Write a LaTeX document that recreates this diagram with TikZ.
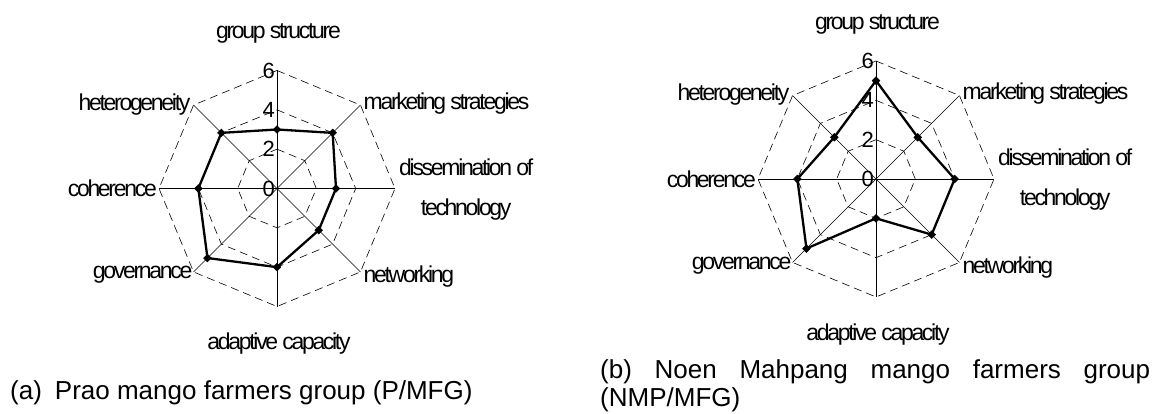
\documentclass[tikz,border=0pt]{standalone}
\usepackage{fontspec}
\setmainfont{Liberation Sans}
\newfontfamily\tightfont{Liberation Sans}[LetterSpace=-10.0]
\usetikzlibrary{plotmarks}
\tikzset{
  ring/.style={line width=0.6pt,dash pattern=on 8pt off 5pt},
  spoke/.style={line width=0.6pt},
  dataline/.style={line width=2.3pt,mark=square*,mark size=2.8pt,mark options={rotate=45,solid,line width=0.4pt}},
  axislabel/.style={inner sep=0pt,font=\tightfont\fontsize{23}{40}\selectfont},
  ticklabel/.style={inner sep=0pt,anchor=east,xshift=-2pt,font=\fontsize{22}{22}\selectfont},
  captext/.style={inner sep=0pt,anchor=base west,font=\fontsize{26}{30}\selectfont}
}
\begin{document}
\begin{tikzpicture}[line join=miter,x=1pt,y=-1pt]
\useasboundingbox (0,0) rectangle (1176,414);
\begin{scope}[shift={(277,188.5)},x=19.667pt,y=-19.667pt]
  \foreach \r in {2,4,6}
    \draw[ring] (-90:\r) -- (-45:\r) -- (0:\r) -- (45:\r) -- (90:\r) -- (135:\r) -- (180:\r) -- (225:\r) -- cycle;
  \foreach \i in {0,...,7}
    \draw[spoke] (0,0) -- ({-90+45*\i}:6) coordinate (a\i);
  \foreach \v in {0,2,4,6}
    \node[ticklabel] (ta\v) at (-90:\v) {\v};
  \draw[dataline] plot coordinates {(-90:3) (-45:4) (0:3) (45:3) (90:4) (135:5) (180:4) (225:4)} -- cycle;
\end{scope}
\node[axislabel,anchor=base] (agroup) at ([xshift=1.5pt,yshift=31.5pt]a0) {group structure};
\node[axislabel,anchor=base west] (amarket) at ([xshift=3pt,yshift=-4pt]a1) {marketing strategies};
\node[axislabel,anchor=west,align=center] (adissem) at ([xshift=4pt,yshift=-1pt]a2) {dissemination of\\technology};
\node[axislabel,anchor=base west] (anet) at ([xshift=3pt,yshift=-11pt]a3) {networking};
\node[axislabel,anchor=base] (aadapt) at ([xshift=2pt,yshift=-43pt]a4) {adaptive capacity};
\node[axislabel,anchor=base east] (agov) at ([xshift=-1pt,yshift=-7pt]a5) {governance};
\node[axislabel,anchor=base east] (acoh) at ([xshift=-2pt,yshift=-8.5pt]a6) {coherence};
\node[axislabel,anchor=base east] (ahet) at ([xshift=-3pt,yshift=-5pt]a7) {heterogeneity};

\begin{scope}[shift={(876,179)},x=19.667pt,y=-19.667pt]
  \foreach \r in {2,4,6}
    \draw[ring] (-90:\r) -- (-45:\r) -- (0:\r) -- (45:\r) -- (90:\r) -- (135:\r) -- (180:\r) -- (225:\r) -- cycle;
  \foreach \i in {0,...,7}
    \draw[spoke] (0,0) -- ({-90+45*\i}:6) coordinate (b\i);
  \foreach \v in {0,2,4,6}
    \node[ticklabel] (tb\v) at (-90:\v) {\v};
  \draw[dataline] plot coordinates {(-90:5) (-45:3) (0:4) (45:4) (90:2) (135:5) (180:4) (225:3)} -- cycle;
\end{scope}
\node[axislabel,anchor=base] (bgroup) at ([xshift=1.5pt,yshift=31.5pt]b0) {group structure};
\node[axislabel,anchor=base west] (bmarket) at ([xshift=3pt,yshift=-4pt]b1) {marketing strategies};
\node[axislabel,anchor=west,align=center] (bdissem) at ([xshift=4pt,yshift=-1pt]b2) {dissemination of\\technology};
\node[axislabel,anchor=base west] (bnet) at ([xshift=3pt,yshift=-11pt]b3) {networking};
\node[axislabel,anchor=base] (badapt) at ([xshift=2pt,yshift=-43pt]b4) {adaptive capacity};
\node[axislabel,anchor=base east] (bgov) at ([xshift=-1pt,yshift=-7pt]b5) {governance};
\node[axislabel,anchor=base east] (bcoh) at ([xshift=-2pt,yshift=-8.5pt]b6) {coherence};
\node[axislabel,anchor=base east] (bhet) at ([xshift=-3pt,yshift=-5pt]b7) {heterogeneity};

\node[captext] (capa) at (10,399) {(a)\enspace Prao mango farmers group (P/MFG)};
\node[captext] (capb) at (600,378) {\hbox to 550pt{(b)\hfill Noen\hfill Mahpang\hfill mango\hfill farmers\hfill group}};
\node[captext] (capb2) at (600,406) {(NMP/MFG)};
\end{tikzpicture}
\end{document}
